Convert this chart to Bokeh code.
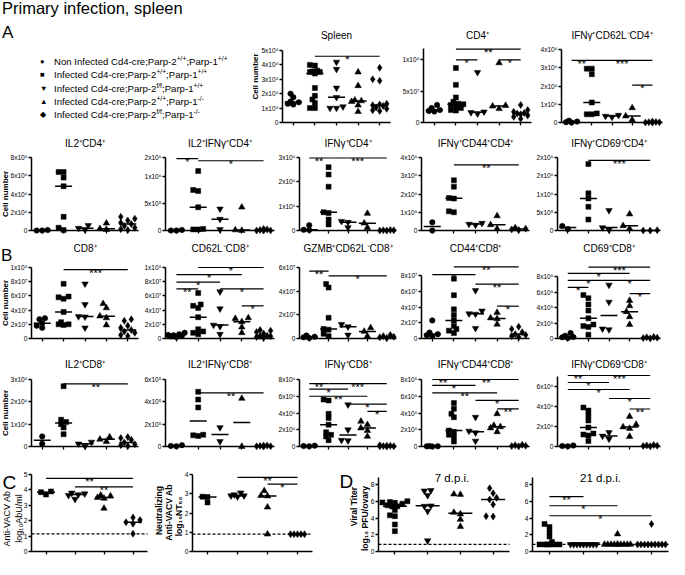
import numpy as np
from bokeh.plotting import figure
from bokeh.models import FixedTicker, Label, Div, ColumnDataSource
from bokeh.layouts import row, column
from bokeh.embed import file_html
from bokeh.resources import INLINE
from bokeh.core.properties import value

FONT = "Liberation Sans"

# ======================= DATA =======================
MAIN_TITLE = "Primary infection, spleen"
GROUP_STATUS = ["Non Infected", "Infected", "Infected", "Infected", "Infected"]
PARP2 = ["+/+", "+/+", "f/f", "+/+", "f/f"]
PARP1 = ["+/+", "+/+", "+/+", "-/-", "-/-"]
GROUP_SYMBOLS = ["●", "■", "▼", "▲", "◆"]
MARKERS = ["circle", "square", "inverted_triangle", "triangle", "diamond"]

CELL_LABEL = ["Cell number"]
AB_LABEL = ["Anti-VACV Ab", "log₁₀AbU/ml"]
NT_LABEL = ["Neutralizing", "Anti-VACV Ab", "log₁₀NT₅₀"]
TITER_LABEL = ["Viral Titer", "log₁₀ PFU/ovary"]

# --- Spleen (x1e8)
SPLEEN_TICKS = [0, 1, 2, 3, 4, 5]
SPLEEN_TICK_LABELS = ["0", "1x10⁸", "2x10⁸", "3x10⁸", "4x10⁸", "5x10⁸"]
SPLEEN_VALUES = [[2.0, 1.75, 1.45, 1.4, 1.3, 1.25],
                 [4.0, 3.95, 3.6, 3.55, 3.5, 3.5, 3.4, 2.4, 1.85, 1.6, 1.35, 1.0, 1.0],
                 [4.2, 3.7, 2.4, 1.75, 1.1, 1.0, 1.0],
                 [3.5, 2.55, 1.55, 1.5, 1.45, 1.2, 0.75],
                 [3.8, 3.0, 2.9, 1.3, 1.25, 1.2, 1.15, 1.05, 0.95, 0.85, 0.8]]
SPLEEN_SIG = [("*", 2, 5, 4.6)]

# --- CD4+ (x1e7)
CD4_TICKS = [0, 5, 10]
CD4_TICK_LABELS = ["0", "5x10⁷", "1x10⁸"]
CD4_VALUES = [[2.8, 2.3, 2.0, 1.85, 1.75],
              [8.7, 6.0, 4.0, 3.3, 3.0, 2.9, 2.8, 2.6, 2.3, 2.0, 1.9],
              [8.0, 1.7, 1.6, 1.4],
              [9.5, 2.7, 2.6, 2.2],
              [2.8, 2.0, 1.7, 1.5, 1.45, 1.3, 1.1, 0.9, 0.6]]
CD4_SIG = [("**", 2, 5, 11.7), ("*", 2, 3, 10.0), ("*", 4, 5, 10.0)]

# --- IFNg+CD62L-CD4+ (x1e6)
IFN62_TICKS = [0, 1, 2, 3, 4]
IFN62_TICK_LABELS = ["0", "1x10⁶", "2x10⁶", "3x10⁶", "4x10⁶"]
IFN62_VALUES = [[0.1, 0.05, 0.02, 0.0],
                [2.95, 2.95, 2.65, 1.1, 0.5, 0.45, 0.45],
                [0.4, 0.35, 0.3],
                [0.8, 0.35, 0.15],
                [0.05, 0.03, 0.02, 0.01, 0.0, 0.0]]
IFN62_SIG = [("**", 1, 2, 3.4), ("***", 2, 5, 3.4), ("*", 4, 5, 2.05)]

# --- IL2+CD4+ (x1e6)
IL2CD4_TICKS = [0, 2, 4, 6, 8]
IL2CD4_TICK_LABELS = ["0", "2x10⁶", "4x10⁶", "6x10⁶", "8x10⁶"]
IL2CD4_VALUES = [[0.05, 0.0, 0.0],
                 [6.4, 6.4, 5.8, 4.85, 1.5, 0.3, 0.05],
                 [0.55, 0.25, 0.1],
                 [0.8, 0.2, 0.1],
                 [1.5, 1.3, 1.1, 0.85, 0.7, 0.5, 0.3, 0.15, 0.05]]
IL2CD4_SIG = []

# --- IL2+IFNg+CD4+ (x1e5)
IL2IFNCD4_TICKS = [0, 5, 10, 13.5]
IL2IFNCD4_TICK_LABELS = ["0", "5x10⁵", "1x10⁶", "2x10⁶"]
IL2IFNCD4_VALUES = [[0.1, 0.0, 0.0],
                    [11.0, 7.5, 7.3, 4.3, 0.3, 0.2, 0.2],
                    [4.0, 2.1, 0.2],
                    [4.3, 0.1, 0.0],
                    [0.3, 0.2, 0.1, 0.0, 0.0, 0.0]]
IL2IFNCD4_SIG = [("*", 1, 2, 13.3), ("*", 2, 5, 12.9)]

# --- IFNg+CD4+ (x1e6)
IFNCD4_TICKS = [0, 1, 2, 3]
IFNCD4_TICK_LABELS = ["0", "1x10⁶", "2x10⁶", "3x10⁶"]
IFNCD4_VALUES = [[0.22, 0.03, 0.02],
                 [2.6, 2.3, 1.8, 0.75, 0.72, 0.45, 0.25],
                 [0.38, 0.34, 0.12],
                 [0.7, 0.3, 0.12],
                 [0.02, 0.01, 0.01, 0.0, 0.0]]
IFNCD4_SIG = [("**", 1, 2, 2.98), ("***", 2, 5, 2.98)]

# --- IFNg+CD44+CD4+ (x1e6)
IFN44CD4_TICKS = [0, 1, 2, 3, 4]
IFN44CD4_TICK_LABELS = ["0", "1x10⁶", "2x10⁶", "3x10⁶", "4x10⁶"]
IFN44CD4_VALUES = [[0.45, 0.0],
                   [2.75, 2.4, 1.78, 1.75, 1.05, 1.0],
                   [0.4, 0.35, 0.3],
                   [0.8, 0.31, 0.1],
                   [0.15, 0.1, 0.06, 0.03]]
IFN44CD4_SIG = [("**", 2, 5, 3.6)]

# --- IFNg+CD69+CD4+ (x1e5)
IFN69CD4_TICKS = [0, 5, 10, 15, 20]
IFN69CD4_TICK_LABELS = ["0", "5x10⁵", "1x10⁶", "2x10⁶", "2x10⁶"]
IFN69CD4_VALUES = [[1.2, 0.4],
                   [18.2, 10.2, 8.8, 6.5, 3.0],
                   [5.5, 0.8, 0.2],
                   [4.5, 1.3, 0.5],
                   [0.1, 0.0, 0.0]]
IFN69CD4_SIG = [("***", 2, 5, 19.2)]

# --- CD8+ (x1e7)
CD8_TICKS = [0, 2, 4, 6, 8, 10]
CD8_TICK_LABELS = ["0", "2x10⁷", "4x10⁷", "6x10⁷", "8x10⁷", "1x10⁸"]
CD8_VALUES = [[2.85, 2.7, 2.15, 1.8, 1.5],
              [7.7, 5.9, 5.8, 5.6, 3.75, 2.3, 2.0, 2.0, 1.9],
              [7.7, 4.8, 3.1, 3.05, 1.5],
              [4.9, 4.3, 3.15, 2.9, 1.9],
              [2.7, 2.5, 1.8, 1.5, 1.2, 1.0, 0.8, 0.5, 0.35]]
CD8_SIG = [("***", 2, 5, 9.7)]

# --- CD62L-CD8+ (x1e7)
CD62CD8_TICKS = [0, 2, 4, 6, 8, 10]
CD62CD8_TICK_LABELS = ["0", "2x10⁷", "4x10⁷", "6x10⁷", "8x10⁷", "1x10⁸"]
CD62CD8_VALUES = [[0.8, 0.6, 0.5, 0.45, 0.4, 0.3, 0.2],
                  [6.4, 4.8, 4.6, 4.3, 3.0, 1.3, 1.0, 0.8, 0.6],
                  [6.6, 4.2, 1.9, 1.7, 0.6],
                  [2.9, 2.8, 2.35, 1.6, 0.8],
                  [1.2, 1.1, 0.9, 0.7, 0.4, 0.35, 0.3, 0.2, 0.1]]
CD62CD8_SIG = [("*", 2, 5, 10.0), ("*", 1, 4, 9.0), ("*", 1, 3, 7.95),
               ("**", 1, 2, 7.0), ("*", 3, 5, 7.0), ("*", 4, 5, 4.6)]

# --- GZMB+CD62L-CD8+ (x1e7)
GZMB_TICKS = [0, 2, 4, 6]
GZMB_TICK_LABELS = ["0", "2x10⁷", "4x10⁷", "6x10⁷"]
GZMB_VALUES = [[0.25, 0.15, 0.1, 0.05],
               [4.6, 4.3, 1.75, 0.8, 0.75, 0.4, 0.2],
               [1.2, 1.0, 0.3],
               [0.9, 0.6, 0.2],
               [0.3, 0.2, 0.15, 0.1, 0.05]]
GZMB_SIG = [("**", 1, 2, 5.7), ("*", 2, 5, 5.3)]

# --- CD44+CD8+ (x1e7)
CD44CD8_TICKS = [0, 2, 4, 6, 8]
CD44CD8_TICK_LABELS = ["0", "2x10⁷", "4x10⁷", "6x10⁷", "8x10⁷"]
CD44CD8_VALUES = [[2.3, 0.75, 0.55, 0.4, 0.3],
                  [7.6, 5.5, 3.7, 3.0, 2.3, 1.6, 1.2, 1.0, 0.7],
                  [6.1, 3.5, 3.15, 3.1, 1.3],
                  [3.3, 2.6, 2.5, 1.8],
                  [1.5, 1.2, 0.8, 0.55, 0.45, 0.3, 0.2]]
CD44CD8_SIG = [("**", 2, 5, 9.1), ("*", 1, 3, 8.1), ("**", 3, 5, 6.9), ("*", 4, 5, 4.1)]

# --- CD69+CD8+ (x1e6)
CD69CD8_TICKS = [0, 2, 4, 6, 8]
CD69CD8_TICK_LABELS = ["0", "2x10⁶", "4x10⁶", "6x10⁶", "8x10⁶"]
CD69CD8_VALUES = [[0.7, 0.35, 0.2, 0.15, 0.05],
                  [5.6, 5.2, 4.4, 3.6, 2.6, 1.8, 1.6, 1.5, 0.5],
                  [6.9, 4.7, 1.25, 1.15],
                  [4.9, 4.2, 3.45, 2.8, 1.8],
                  [0.2, 0.15, 0.1, 0.05, 0.02]]
CD69CD8_SIG = [("***", 2, 5, 9.2), ("*", 1, 4, 8.4), ("*", 1, 3, 7.5),
               ("*", 3, 5, 7.5), ("*", 1, 2, 6.6), ("*", 4, 5, 5.8)]

# --- IL2+CD8+ (x1e6)
IL2CD8_TICKS = [0, 1, 2, 3]
IL2CD8_TICK_LABELS = ["0", "1x10⁶", "2x10⁶", "3x10⁶"]
IL2CD8_VALUES = [[0.45, 0.12],
                 [2.7, 1.2, 1.1, 1.0, 0.85, 0.55],
                 [0.2, 0.12, 0.02],
                 [0.42, 0.32, 0.22],
                 [0.42, 0.38, 0.3, 0.18, 0.1, 0.06, 0.02]]
IL2CD8_SIG = [("**", 2, 5, 2.8)]

# --- IL2+IFNg+CD8+ (x1e5)
IL2IFNCD8_TICKS = [0, 2, 4, 6]
IL2IFNCD8_TICK_LABELS = ["0", "2x10⁵", "4x10⁵", "6x10⁵"]
IL2IFNCD8_VALUES = [[0.12, 0.05, 0.02],
                    [4.9, 4.2, 3.5, 1.05, 1.0, 0.95],
                    [1.7, 0.45],
                    [4.3, 0.0],
                    [0.1, 0.08, 0.05, 0.03, 0.02, 0.0]]
IL2IFNCD8_SIG = [("**", 2, 5, 4.8)]

# --- IFNg+CD8+ (x1e6)
IFNCD8_TICKS = [0, 2, 4, 6, 8]
IFNCD8_TICK_LABELS = ["0", "2x10⁶", "4x10⁶", "6x10⁶", "8x10⁶"]
IFNCD8_VALUES = [[0.1, 0.05, 0.02],
                 [5.6, 5.5, 3.9, 3.4, 2.6, 1.7, 1.4, 1.2, 0.75],
                 [5.0, 2.0, 0.75, 0.7],
                 [3.0, 2.6, 2.2, 1.9, 1.2],
                 [0.15, 0.1, 0.08, 0.05, 0.03, 0.02, 0.01]]
IFNCD8_SIG = [("**", 1, 2, 7.5), ("***", 2, 5, 7.5), ("*", 1, 3, 6.85),
              ("**", 1, 4, 6.0), ("*", 3, 5, 5.05), ("*", 4, 5, 4.2)]

# --- IFNg+CD44+CD8+ (x1e6)
IFN44CD8_TICKS = [0, 2, 4, 6, 8]
IFN44CD8_TICK_LABELS = ["0", "2x10⁶", "4x10⁶", "6x10⁶", "8x10⁶"]
IFN44CD8_VALUES = [[0.05, 0.03, 0.02, 0.0],
                   [5.2, 4.5, 3.9, 3.5, 1.9, 1.75, 1.4, 1.2, 0.6],
                   [3.5, 1.85, 1.65, 0.65],
                   [3.9, 2.5, 2.35, 2.2, 1.75],
                   [0.2, 0.15, 0.1, 0.05, 0.03]]
IFN44CD8_SIG = [("**", 1, 2, 8.0), ("**", 2, 5, 8.0), ("*", 1, 3, 7.3),
                ("**", 1, 4, 6.4), ("*", 3, 5, 5.5), ("**", 4, 5, 4.5)]

# --- IFNg+CD69+CD8+ (x1e6)
IFN69CD8_TICKS = [0, 2, 4, 6]
IFN69CD8_TICK_LABELS = ["0", "2x10⁶", "4x10⁶", "6x10⁶"]
IFN69CD8_VALUES = [[0.1, 0.05, 0.02],
                   [3.9, 3.6, 3.1, 2.6, 1.9, 1.3, 1.2, 1.1, 0.55],
                   [1.4, 1.05, 0.75],
                   [3.0, 2.2, 1.95, 1.8, 1.0],
                   [0.15, 0.1, 0.08, 0.05, 0.03]]
IFN69CD8_SIG = [("**", 1, 2, 7.1), ("***", 2, 5, 7.1), ("*", 1, 3, 6.4),
                ("*", 1, 4, 5.7), ("*", 3, 5, 4.8), ("**", 4, 5, 3.75)]

# --- C: antibodies (infected groups only)
AB_TICKS = [0, 1, 2, 3, 4, 5]
AB_TICK_LABELS = ["0", "1", "2", "3", "4", "5"]
AB_VALUES = [[3.9, 3.85, 3.7],
             [3.8, 3.75, 3.7, 3.65, 3.4],
             [3.65, 3.6, 3.5, 3.45, 2.8],
             [2.2, 2.05, 1.9, 1.8, 1.15]]
AB_LOD = 1.15
AB_SIG = [("**", 1, 4, 4.75), ("**", 2, 4, 4.2)]

NT_TICKS = [0, 1, 2, 3, 4]
NT_TICK_LABELS = ["0", "1", "2", "3", "4"]
NT_VALUES = [[2.85, 2.83, 2.55],
             [3.05, 2.95, 2.9, 2.9, 2.85],
             [3.15, 2.9, 2.88, 2.3, 0.9],
             [0.9, 0.9, 0.9, 0.9, 0.9]]
NT_LOD = 0.9
NT_SIG = [("**", 2, 4, 3.85), ("*", 3, 4, 3.5)]

# --- D: viral titers
TITER_TICKS = [0, 2, 4, 6, 8]
TITER_TICK_LABELS = ["0", "2", "4", "6", "8"]
D7_VALUES = [[6.05, 5.95, 5.9, 5.85, 5.75, 5.55, 5.45, 5.4, 5.0, 4.35, 4.25, 3.25, 2.45],
             [7.35, 7.3, 6.75, 5.5, 5.45, 4.85, 1.3],
             [6.9, 6.85, 4.7, 4.5, 3.85, 3.0],
             [7.6, 7.0, 6.45, 6.25, 5.65, 4.25, 4.2]]
D21_VALUES = [[3.3, 2.95, 2.35, 1.8, 1.15, 0.85, 0.85, 0.85, 0.85, 0.85, 0.85],
              [0.85, 0.85, 0.85, 0.85, 0.85, 0.85, 0.85, 0.85, 0.85],
              [2.1, 0.85, 0.85, 0.85, 0.85, 0.85, 0.85, 0.85, 0.85, 0.85, 0.85],
              [3.3, 0.85, 0.85, 0.85, 0.85, 0.85, 0.85, 0.85, 0.85, 0.85]]
TITER_LOD = 0.85
D7_SIG = []
D21_SIG = [("**", 1, 2, 6.6), ("*", 1, 3, 5.5), ("*", 1, 4, 4.3)]

# ======================= LAYOUT / STYLE =======================
MARKER_SIZES = [5.5, 5.0, 6.5, 6.5, 7.0]
ROWS = {1: (24, 134, 122, 50), 2: (134, 239, 230, 157), 3: (239, 355, 338, 267),
        4: (355, 463, 446, 379), 5: (463, 559, 551, 474)}
TITLE_Y = {1: 35, 2: 143, 3: 248, 4: 364, 5: 477}
TICK_FONT = "6.6px"


def tick_key(t):
    return int(t) if float(t).is_integer() else float(t)


def swarm(vals, ppu, ppc, size):
    d = 0.8 * size
    step = 0.5 * size
    maxw = 0.42 * ppc
    cands = [0.0]
    k = 1
    while k * step <= maxw + 1e-9:
        cands += [-k * step, k * step]
        k += 1
    order = sorted(range(len(vals)), key=lambda i: vals[i])
    placed, off = [], [0.0] * len(vals)
    for i in order:
        y = vals[i] * ppu
        chosen, bestc, bestd = None, 0.0, -1.0
        for c in cands:
            md = min([np.hypot(c - px, y - py) for px, py in placed] or [1e9])
            if md >= d:
                chosen = c
                break
            if md > bestd:
                bestd, bestc = md, c
        if chosen is None:
            chosen = bestc
        placed.append((chosen, y))
        off[i] = chosen / ppc
    return off


def make_plot(title, vals, groups, ticks, tick_labels, top, sig, fig_x, axis_x, rk,
              top_px=None, ylabel=None, ylabel_x=None, ylabel_y=None, ylabel_size="8px",
              ylabel_style="bold", lod=None, title_size="10px", title_dx=0, med_half=8.5,
              letter=None, letter_pos=None, letter_size="17px", bound_top=None):
    # the whole figure is the plotting frame; axes are drawn at fixed data locations
    row_top, row_bot, axis_bot, default_top = ROWS[rk]
    tp = default_top if top_px is None else top_px
    n = len(vals)
    al, ar = axis_x
    x0, x1 = fig_x
    ppu = (axis_bot - tp) / top
    ppc = (ar - al) / n
    x_start = 0.5 - (al - x0) / ppc
    x_end = n + 0.5 + (x1 - ar) / ppc
    y_start = -(row_bot - axis_bot) / ppu
    y_end = top + (tp - row_top) / ppu

    def xd(px):
        return 0.5 + (px - al) / ppc

    def yd(px):
        return y_end - (px - row_top) / ppu

    p = figure(width=x1 - x0, height=row_bot - row_top,
               x_range=(x_start, x_end), y_range=(y_start, y_end),
               min_border_left=0, min_border_right=0, min_border_top=0, min_border_bottom=0,
               toolbar_location=None, output_backend="svg")
    p.outline_line_color = None
    p.background_fill_color = "white"
    p.border_fill_color = "white"
    p.xgrid.visible = False
    p.ygrid.visible = False

    for ax in (p.xaxis[0], p.yaxis[0]):
        ax.axis_line_width = 1.5
        ax.axis_line_color = "black"
        ax.major_tick_line_width = 1.3
        ax.major_tick_line_color = "black"
        ax.major_tick_in = 0
        ax.major_tick_out = 3
        ax.minor_tick_line_color = None
        ax.major_label_text_font = FONT
        ax.major_label_text_color = "black"
        ax.major_label_standoff = 1

    xa = p.xaxis[0]
    xa.ticker = FixedTicker(ticks=list(range(1, n + 1)))
    xa.major_label_overrides = {i: "" for i in range(1, n + 1)}
    xa.major_label_text_font_size = "1px"
    xa.fixed_location = 0
    xa.bounds = (0.5, n + 0.5)

    ya = p.yaxis[0]
    ya.ticker = FixedTicker(ticks=list(ticks))
    ya.major_label_overrides = {tick_key(t): lab for t, lab in zip(ticks, tick_labels)}
    ya.major_label_text_font_size = TICK_FONT
    ya.bounds = (0, top if bound_top is None else bound_top)
    ya.fixed_location = 0.5

    if ylabel:
        ys_px = ylabel_y if ylabel_y is not None else [(tp + axis_bot) / 2] * len(ylabel)
        for txt, lx, ly in zip(ylabel, ylabel_x, ys_px):
            p.add_layout(Label(x=xd(lx), y=yd(ly), text=txt, angle=np.pi / 2,
                               text_align="center", text_baseline="middle",
                               text_font=FONT, text_font_size=ylabel_size,
                               text_font_style=ylabel_style, text_color="black"))

    if lod is not None:
        p.segment(x0=[0.5], x1=[n + 0.5], y0=[lod], y1=[lod], line_color="black",
                  line_width=1.3, line_dash="3 2")

    xs, ys, mk, sz = [], [], [], []
    mx0, mx1, my = [], [], []
    for gi, (g, v) in enumerate(zip(groups, vals)):
        size = MARKER_SIZES[g]
        off = swarm(v, ppu, ppc, size)
        for val, o in zip(v, off):
            xs.append(gi + 1 + o)
            ys.append(val)
            mk.append(MARKERS[g])
            sz.append(size)
        med = float(np.median(v))
        mx0.append(gi + 1 - med_half / ppc)
        mx1.append(gi + 1 + med_half / ppc)
        my.append(med)

    p.segment(x0="x0", x1="x1", y0="y", y1="y",
              source=ColumnDataSource(dict(x0=mx0, x1=mx1, y=my)),
              line_color="black", line_width=1.5)
    p.scatter(x="x", y="y", marker="marker", size="size",
              source=ColumnDataSource(dict(x=xs, y=ys, marker=mk, size=sz)),
              fill_color="black", line_color="black", line_width=0.5)

    if sig:
        sx0 = [s[1] for s in sig]
        sx1 = [s[2] for s in sig]
        sy = [s[3] for s in sig]
        st = [s[0] for s in sig]
        src = ColumnDataSource(dict(x0=sx0, x1=sx1, y=sy, t=st,
                                    xm=[(a + b) / 2 for a, b in zip(sx0, sx1)]))
        p.segment(x0="x0", x1="x1", y0="y", y1="y", source=src,
                  line_color="black", line_width=1.2)
        # a negligible rotation keeps the small glyphs in plain grey-scale antialiasing
        p.text(x="xm", y="y", text="t", source=src, text_align="center",
               text_baseline="alphabetic", text_font=value(FONT),
               text_font_size=value("11px"), text_font_style="normal",
               text_color="black", y_offset=3, angle=0.002)

    if title:
        p.add_layout(Label(x=xd((al + ar) / 2 + title_dx), y=yd(TITLE_Y[rk]), text=title,
                           text_align="center", text_baseline="middle",
                           text_font=FONT, text_font_size=title_size, text_color="black"))
    if letter:
        lx, ly = letter_pos
        p.add_layout(Label(x=xd(lx), y=yd(ly), text=letter, text_align="left",
                           text_baseline="alphabetic", text_font=FONT,
                           text_font_size=letter_size, text_color="black"))
    return p


G5 = [0, 1, 2, 3, 4]
G4 = [1, 2, 3, 4]

# ---- title div
title_div = Div(text=(
    '<div style="position:relative;width:669px;height:24px;">'
    '<span style="position:absolute;left:2px;top:0px;font-family:\'Liberation Sans\';'
    'font-size:16.5px;line-height:16.5px;white-space:nowrap;color:#000">'
    + MAIN_TITLE + '</span></div>'), width=669, height=24, margin=(0, 0, 0, 0))

# ---- legend div (with panel letter A)
items = ['<div style="position:absolute;left:2px;top:0px;font-size:17px;line-height:17px">A</div>']
for i in range(5):
    top = 30.8 + 13.4 * i
    items.append('<div style="position:absolute;left:40px;top:%.1fpx;font-size:7.5px;'
                 'line-height:13.4px">%s</div>' % (top, GROUP_SYMBOLS[i]))
    items.append('<div style="position:absolute;left:54px;top:%.1fpx;font-size:9.6px;'
                 'line-height:13.4px;white-space:nowrap">%s Cd4-cre;Parp-2<sup style="font-size:70%%;'
                 'line-height:0">%s</sup>;Parp-1<sup style="font-size:70%%;line-height:0">%s</sup></div>'
                 % (top, GROUP_STATUS[i], PARP2[i], PARP1[i]))
legend_div = Div(text=('<div style="position:relative;width:250px;height:110px;'
                       'font-family:\'Liberation Sans\';color:#000">' + "".join(items) + '</div>'),
                 width=250, height=110, margin=(0, 0, 0, 0))

# ---- row 1
r1 = row(legend_div,
         make_plot("Spleen", SPLEEN_VALUES, G5, SPLEEN_TICKS, SPLEEN_TICK_LABELS, 5, SPLEEN_SIG,
                   (250, 396), (282, 390), 1, ylabel=CELL_LABEL, ylabel_x=[255], ylabel_y=[76]),
         make_plot("CD4⁺", CD4_VALUES, G5, CD4_TICKS, CD4_TICK_LABELS, 11.8, CD4_SIG,
                   (396, 535), (423, 531), 1, top_px=48),
         make_plot("IFNγ⁺CD62L⁻CD4⁺", IFN62_VALUES, G5, IFN62_TICKS, IFN62_TICK_LABELS, 4, IFN62_SIG,
                   (535, 669), (561, 662), 1, top_px=49))

COLS_FIG = [(0, 141), (141, 277), (277, 398), (398, 532), (532, 669)]
COLS_AXIS = [(31, 138), (165, 274), (299, 396), (421, 529), (557, 660)]
CELL_X = [4.6]

r2 = row(
    make_plot("IL2⁺CD4⁺", IL2CD4_VALUES, G5, IL2CD4_TICKS, IL2CD4_TICK_LABELS, 8, IL2CD4_SIG,
              COLS_FIG[0], COLS_AXIS[0], 2, ylabel=CELL_LABEL, ylabel_x=CELL_X),
    make_plot("IL2⁺IFNγ⁺CD4⁺", IL2IFNCD4_VALUES, G5, IL2IFNCD4_TICKS, IL2IFNCD4_TICK_LABELS, 13.5,
              IL2IFNCD4_SIG, COLS_FIG[1], COLS_AXIS[1], 2),
    make_plot("IFNγ⁺CD4⁺", IFNCD4_VALUES, G5, IFNCD4_TICKS, IFNCD4_TICK_LABELS, 3, IFNCD4_SIG,
              COLS_FIG[2], COLS_AXIS[2], 2),
    make_plot("IFNγ⁺CD44⁺CD4⁺", IFN44CD4_VALUES, G5, IFN44CD4_TICKS, IFN44CD4_TICK_LABELS, 4,
              IFN44CD4_SIG, COLS_FIG[3], COLS_AXIS[3], 2),
    make_plot("IFNγ⁺CD69⁺CD4⁺", IFN69CD4_VALUES, G5, IFN69CD4_TICKS, IFN69CD4_TICK_LABELS, 20,
              IFN69CD4_SIG, COLS_FIG[4], COLS_AXIS[4], 2))

r3 = row(
    make_plot("CD8⁺", CD8_VALUES, G5, CD8_TICKS, CD8_TICK_LABELS, 10, CD8_SIG,
              COLS_FIG[0], COLS_AXIS[0], 3, ylabel=CELL_LABEL, ylabel_x=CELL_X,
              letter="B", letter_pos=(0.5, 254.5)),
    make_plot("CD62L⁻CD8⁺", CD62CD8_VALUES, G5, CD62CD8_TICKS, CD62CD8_TICK_LABELS, 10, CD62CD8_SIG,
              COLS_FIG[1], COLS_AXIS[1], 3),
    make_plot("GZMB⁺CD62L⁻CD8⁺", GZMB_VALUES, G5, GZMB_TICKS, GZMB_TICK_LABELS, 6, GZMB_SIG,
              COLS_FIG[2], COLS_AXIS[2], 3),
    make_plot("CD44⁺CD8⁺", CD44CD8_VALUES, G5, CD44CD8_TICKS, CD44CD8_TICK_LABELS, 8, CD44CD8_SIG,
              COLS_FIG[3], COLS_AXIS[3], 3, top_px=275),
    make_plot("CD69⁺CD8⁺", CD69CD8_VALUES, G5, CD69CD8_TICKS, CD69CD8_TICK_LABELS, 8, CD69CD8_SIG,
              COLS_FIG[4], COLS_AXIS[4], 3, top_px=276))

r4 = row(
    make_plot("IL2⁺CD8⁺", IL2CD8_VALUES, G5, IL2CD8_TICKS, IL2CD8_TICK_LABELS, 3, IL2CD8_SIG,
              COLS_FIG[0], COLS_AXIS[0], 4, ylabel=CELL_LABEL, ylabel_x=CELL_X),
    make_plot("IL2⁺IFNγ⁺CD8⁺", IL2IFNCD8_VALUES, G5, IL2IFNCD8_TICKS, IL2IFNCD8_TICK_LABELS, 6,
              IL2IFNCD8_SIG, COLS_FIG[1], COLS_AXIS[1], 4),
    make_plot("IFNγ⁺CD8⁺", IFNCD8_VALUES, G5, IFNCD8_TICKS, IFNCD8_TICK_LABELS, 8, IFNCD8_SIG,
              COLS_FIG[2], COLS_AXIS[2], 4),
    make_plot("IFNγ⁺CD44⁺CD8⁺", IFN44CD8_VALUES, G5, IFN44CD8_TICKS, IFN44CD8_TICK_LABELS, 8,
              IFN44CD8_SIG, COLS_FIG[3], COLS_AXIS[3], 4),
    make_plot("IFNγ⁺CD69⁺CD8⁺", IFN69CD8_VALUES, G5, IFN69CD8_TICKS, IFN69CD8_TICK_LABELS, 7,
              IFN69CD8_SIG, COLS_FIG[4], COLS_AXIS[4], 4, top_px=376))

r5 = row(
    make_plot("", AB_VALUES, G4, AB_TICKS, AB_TICK_LABELS, 5, AB_SIG, (0, 152), (31, 147), 5,
              ylabel=AB_LABEL, ylabel_x=[6, 18], ylabel_y=[518, 518], ylabel_size="9px",
              ylabel_style="normal", lod=AB_LOD, med_half=9,
              letter="C", letter_pos=(2, 482), letter_size="19px"),
    make_plot("", NT_VALUES, G4, NT_TICKS, NT_TICK_LABELS, 4, NT_SIG, (152, 322), (192, 312), 5,
              ylabel=NT_LABEL, ylabel_x=[158, 168, 178], ylabel_y=[510, 512, 516],
              ylabel_size="8.6px", ylabel_style="bold", lod=NT_LOD, med_half=9),
    make_plot("7 d.p.i.", D7_VALUES, G4, TITER_TICKS, TITER_TICK_LABELS, 8.9, D7_SIG,
              (322, 520), (378, 509), 5, top_px=477, ylabel=TITER_LABEL, ylabel_x=[353, 364],
              ylabel_y=[506, 518], ylabel_size="8.6px", ylabel_style="bold", lod=TITER_LOD,
              title_size="11.5px", title_dx=8, med_half=12,
              letter="D", letter_pos=(339, 481), letter_size="19px"),
    make_plot("21 d.p.i.", D21_VALUES, G4, TITER_TICKS, TITER_TICK_LABELS, 8.9, D21_SIG,
              (520, 669), (532, 668), 5, top_px=477, lod=TITER_LOD, title_size="11.5px",
              med_half=12))

layout = column(title_div, r1, r2, r3, r4, r5)
open("out.html", "w").write(file_html(layout, INLINE))
